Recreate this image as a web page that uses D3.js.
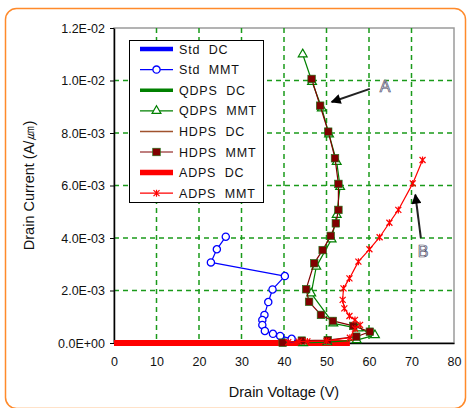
<!DOCTYPE html>
<html>
<head>
<meta charset="utf-8">
<script src="https://cdn.jsdelivr.net/npm/d3@7"></script>
<style>
  html, body { margin: 0; padding: 0; background: #fff; }
  svg { display: block; font-family: "Liberation Sans", Arial, sans-serif; }
</style>
</head>
<body>
<div id="chart"></div>
<script>
// Drain voltage (V) / drain current (A/um) per series
const stdDcV = [0, 10, 20, 30, 38, 41, 42];
const stdDcI = [0, 0, 0, 0, 0, 0.00002, 0.00005];
const stdMmtV = [26.3, 24.2, 22.8, 40.2, 37.3, 36.3, 35.4, 34.9, 34.9, 35.5, 37.4, 39.1, 41.8];
const stdMmtI = [4.05e-3, 3.57e-3, 3.07e-3, 2.55e-3, 2.04e-3, 1.56e-3, 1.07e-3, 0.88e-3, 0.69e-3, 0.46e-3, 0.35e-3, 0.27e-3, 0.16e-3];
const qdpsDcV = [0, 10, 20, 30, 40, 44];
const qdpsDcI = [0, 0, 0, 0, 0, 0];
const qdpsMmtV = [44.4, 46.6, 48.9, 50.6, 52.4, 53.2, 52.4, 51.2, 47.6, 46.4, 51.6, 57.5, 61.4, 57.1, 50.2, 44.5];
const qdpsMmtI = [11.0e-3, 9.95e-3, 8.94e-3, 7.95e-3, 6.9e-3, 5.95e-3, 4.88e-3, 3.95e-3, 2.91e-3, 1.89e-3, 0.75e-3, 0.56e-3, 0.3e-3, 0.11e-3, 0.03e-3, 0];
const hdpsDcV = [0, 10, 20, 30, 40, 46];
const hdpsDcI = [0, 0, 0, 0, 0, 0];
const hdpsMmtV = [46.5, 48.5, 50.4, 52.0, 52.8, 52.8, 52.2, 51.0, 49.1, 47.1, 45.2, 45.9, 48.7, 51.5, 56.3, 60.2, 57.0, 50.3, 44.2, 39.7];
const hdpsMmtI = [10.06e-3, 9.04e-3, 8.05e-3, 7.04e-3, 6.06e-3, 5.07e-3, 4.56e-3, 4.08e-3, 3.54e-3, 3.04e-3, 2.05e-3, 1.57e-3, 1.07e-3, 0.84e-3, 0.65e-3, 0.43e-3, 0.24e-3, 0.11e-3, 0.09e-3, 0.01e-3];
const adpsDcV = [0, 10, 20, 30, 40, 50, 55.5];
const adpsDcI = [0, 0, 0, 0, 0, 0, 0];
const adpsMmtV = [72.6, 70.3, 66.9, 64.8, 62.5, 60.1, 57.5, 55.4, 54.0, 53.8, 54.2, 55.4, 56.7, 57.9, 56.7, 55.5, 50.0, 45.5, 43.5, 41.0];
const adpsMmtI = [6.97e-3, 6.08e-3, 5.07e-3, 4.58e-3, 4.03e-3, 3.57e-3, 3.10e-3, 2.46e-3, 2.08e-3, 1.64e-3, 1.32e-3, 1.03e-3, 0.88e-3, 0.69e-3, 0.55e-3, 0.2e-3, 0.08e-3, 0.06e-3, 0.05e-3, 0.03e-3];

const seriesNames = ['Std  DC', 'Std  MMT', 'QDPS  DC', 'QDPS  MMT', 'HDPS  DC', 'HDPS  MMT', 'ADPS  DC', 'ADPS  MMT'];
const xTicks = [0, 10, 20, 30, 40, 50, 60, 70, 80];
const yTicks = [0, 2e-3, 4e-3, 6e-3, 8e-3, 10e-3, 12e-3];

// annotation anchors in data units: [label, textV, textI, fromV, fromI, toV, toI]
const noteA = ['A', 63.8, 9.8e-3, 60.2, 9.68e-3, 51.2, 9.18e-3];
const noteB = ['B', 72.7, 3.5e-3, 72.2, 4.0e-3, 70.9, 5.65e-3];

const width = 468, height = 408;
const svg = d3.select('#chart').append('svg').attr('width', width).attr('height', height);

const x = d3.scaleLinear().domain([0, 80]).range([114, 454]);
const y = d3.scaleLinear().domain([0, 0.012]).range([343, 28]);

// outer orange rounded frame
svg.append('rect')
  .attr('x', 5.5).attr('y', 8.5).attr('width', 460).attr('height', 400)
  .attr('rx', 11)
  .attr('fill', 'none').attr('stroke', '#ff8a2b').attr('stroke-width', 1.5);

// plot frame (grey top/right)
svg.append('rect')
  .attr('x', x(0)).attr('y', y(0.012)).attr('width', x(80) - x(0)).attr('height', y(0) - y(0.012))
  .attr('fill', '#fff').attr('stroke', '#9a9a9a').attr('stroke-width', 1.5);

// grid
const grid = svg.append('g').attr('stroke', '#1a9a1a').attr('stroke-width', 1.5).attr('stroke-dasharray', '5,4');
grid.selectAll('.gx').data(xTicks.slice(1, -1)).enter().append('line')
  .attr('x1', d => x(d)).attr('x2', d => x(d)).attr('y1', y(0.012)).attr('y2', y(0));
grid.selectAll('.gy').data(yTicks.slice(1, -1)).enter().append('line')
  .attr('x1', x(0)).attr('x2', x(80)).attr('y1', d => y(d)).attr('y2', d => y(d));

// axes
function sciFmt(v) {
  const s = v.toExponential(1).toUpperCase();
  const m = s.match(/^(.*)E([+-])(\d+)$/);
  return m[1] + 'E' + m[2] + m[3].padStart(2, '0');
}
const yAxis = svg.append('g').attr('transform', `translate(${x(0)},0)`)
  .call(d3.axisLeft(y).tickValues(yTicks).tickFormat(sciFmt).tickSize(4).tickSizeOuter(0));
const xAxis = svg.append('g').attr('transform', `translate(0,${y(0)})`)
  .call(d3.axisBottom(x).tickValues(xTicks).tickSize(0).tickPadding(14).tickSizeOuter(0));
[xAxis, yAxis].forEach(a => {
  a.select('.domain').attr('stroke', '#000').attr('stroke-width', 1.5);
  a.selectAll('.tick line').attr('stroke', '#000');
  a.selectAll('text').attr('font-family', '"Liberation Sans", Arial, sans-serif')
    .attr('font-size', 12.5).attr('fill', '#111');
});
yAxis.selectAll('text').attr('x', -9);

// axis titles
svg.append('text')
  .attr('x', (x(0) + x(80)) / 2).attr('y', 397)
  .attr('text-anchor', 'middle').attr('font-size', 14.5).attr('fill', '#111')
  .text('Drain Voltage (V)');
svg.append('text')
  .attr('transform', `translate(34,${(y(0) + y(0.012)) / 2}) rotate(-90)`)
  .attr('text-anchor', 'middle').attr('font-size', 14.5).attr('fill', '#111')
  .text('Drain Current (A/㎛)');

// series
const zip = (vs, is) => vs.map((v, i) => [v, is[i]]);
const line = d3.line().x(d => x(d[0])).y(d => y(d[1]));
const series = [
  { pts: zip(stdDcV, stdDcI), color: '#0000ff', w: 4, mark: null },
  { pts: zip(qdpsDcV, qdpsDcI), color: '#008000', w: 3.5, mark: null },
  { pts: zip(hdpsDcV, hdpsDcI), color: '#a0522d', w: 1.5, mark: null },
  { pts: zip(adpsDcV, adpsDcI), color: '#ff0000', w: 6, mark: null },
  { pts: zip(stdMmtV, stdMmtI), color: '#0000ff', w: 1.2, mark: 'circle' },
  { pts: zip(qdpsMmtV, qdpsMmtI), color: '#008000', w: 1.2, mark: 'triangle' },
  { pts: zip(hdpsMmtV, hdpsMmtI), color: '#800000', w: 1.2, mark: 'square' },
  { pts: zip(adpsMmtV, adpsMmtI), color: '#ff0000', w: 1.2, mark: 'star' }
];

function drawMarker(g, type, color) {
  if (type === 'circle') {
    g.append('circle').attr('r', 3.6).attr('fill', '#fff').attr('stroke', color).attr('stroke-width', 1.3);
  } else if (type === 'triangle') {
    g.append('path').attr('d', d3.symbol(d3.symbolTriangle, 34)()).attr('fill', '#fff')
      .attr('stroke', color).attr('stroke-width', 1.2);
  } else if (type === 'square') {
    g.append('rect').attr('x', -3.8).attr('y', -3.8).attr('width', 7.6).attr('height', 7.6)
      .attr('fill', color).attr('stroke', '#1a7a1a').attr('stroke-width', 0.6);
  } else if (type === 'star') {
    g.append('path').attr('d', 'M-3,-3L3,3M-3,3L3,-3M0,-3.5L0,3.5').attr('stroke', color)
      .attr('stroke-width', 1.2).attr('fill', 'none');
  }
}

const plot = svg.append('g');
series.forEach(s => {
  plot.append('path').datum(s.pts).attr('d', line)
    .attr('fill', 'none').attr('stroke', s.color).attr('stroke-width', s.w)
    .attr('stroke-linejoin', 'round');
  if (s.mark) {
    s.pts.forEach(p => {
      const g = plot.append('g').attr('transform', `translate(${x(p[0])},${y(p[1])})`);
      drawMarker(g, s.mark, s.color);
    });
  }
});

// legend
const lg = svg.append('g').attr('transform', 'translate(129,40)');
lg.append('rect').attr('x', 0.5).attr('y', 0.5).attr('width', 134).attr('height', 162)
  .attr('fill', '#fff').attr('stroke', '#000').attr('stroke-width', 1);
const legendStyle = [
  ['#0000ff', 4.5, null], ['#0000ff', 1.2, 'circle'], ['#008000', 3.5, null], ['#008000', 1.2, 'triangle'],
  ['#a0522d', 1.5, null], ['#800000', 1.2, 'square'], ['#ff0000', 5.5, null], ['#ff0000', 1.2, 'star']
];
seriesNames.forEach((name, i) => {
  const yy = 9 + i * 20.6;
  const [c, w, m] = legendStyle[i];
  lg.append('line').attr('x1', 11).attr('x2', 44).attr('y1', yy).attr('y2', yy)
    .attr('stroke', c).attr('stroke-width', w);
  if (m) drawMarker(lg.append('g').attr('transform', `translate(27.5,${yy})`), m, c);
  lg.append('text').attr('x', 50).attr('y', yy + 4.5)
    .attr('font-size', 12.5).attr('letter-spacing', 0.8).attr('fill', '#111')
    .style('white-space', 'pre').text(name);
});

// annotations
svg.append('defs').append('marker')
  .attr('id', 'ah').attr('viewBox', '0 0 10 10').attr('refX', 9).attr('refY', 5)
  .attr('markerWidth', 6).attr('markerHeight', 5).attr('orient', 'auto')
  .append('path').attr('d', 'M0,0L10,5L0,10z').attr('fill', '#000');
[noteA, noteB].forEach(n => {
  svg.append('line')
    .attr('x1', x(n[3])).attr('y1', y(n[4])).attr('x2', x(n[5])).attr('y2', y(n[6]))
    .attr('stroke', '#222').attr('stroke-width', 2).attr('marker-end', 'url(#ah)');
  svg.append('text').attr('x', x(n[1])).attr('y', y(n[2]) + 6)
    .attr('text-anchor', 'middle').attr('font-size', 16).attr('fill', '#f2f2f8')
    .attr('stroke', '#4a4a66').attr('stroke-width', 0.7).text(n[0]);
});
</script>
</body>
</html>
